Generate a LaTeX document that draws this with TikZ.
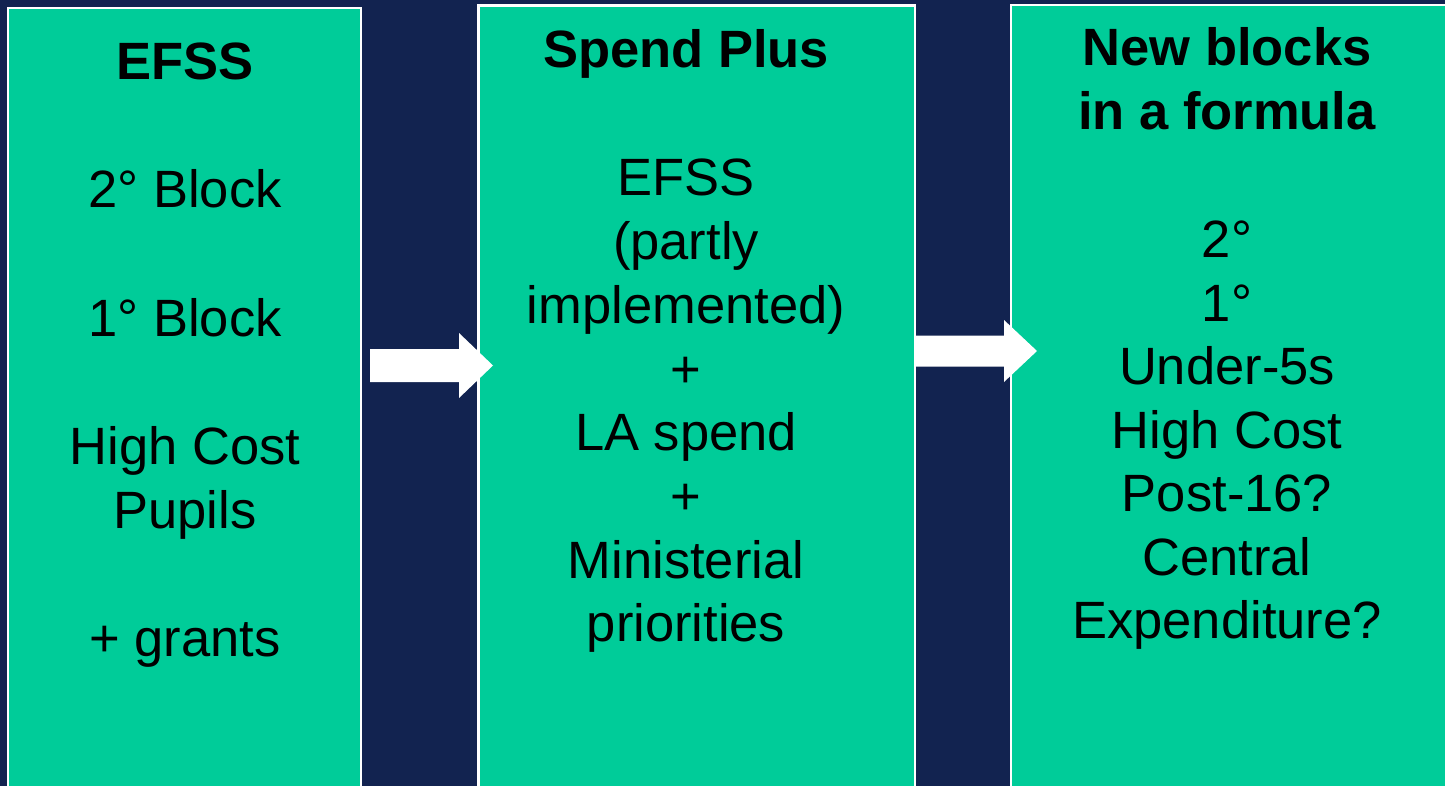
\documentclass[tikz,border=0pt]{standalone}
\usepackage{fontspec}
\setmainfont{Liberation Sans}
\usetikzlibrary{calc}
\definecolor{navy}{RGB}{18,35,80}
\definecolor{mint}{RGB}{0,204,153}
\newcommand{\drawflow}[5]{% start, tip, body half, head half, head length
  \fill[white] ($(#1)+(0,-#3)$) -- ($(#2)+(-#5,-#3)$) -- ($(#2)+(-#5,-#4)$) -- (#2)
    -- ($(#2)+(-#5,#4)$) -- ($(#2)+(-#5,#3)$) -- ($(#1)+(0,#3)$) -- cycle;}
\begin{document}
\begin{tikzpicture}[x=1pt,y=-1pt,
  panel/.style={draw=white, line width=2.5pt, fill=mint, anchor=north west, inner sep=0pt, outer sep=0pt, minimum height=820pt},
  txt/.style={anchor=base, inner sep=0pt, text=black, font=\fontsize{52.5}{63}\selectfont},
  ttl/.style={txt, font=\fontsize{52.5}{63}\selectfont\bfseries}]
\useasboundingbox (0,0) rectangle (1445,786);
\fill[navy] (0,0) rectangle (1445,786);
\clip (0,0) rectangle (1445,786);
% panels
\node[panel, minimum width=353pt] (b1) at (8,8) {};
\node[panel, minimum width=436.5pt] (b2) at (478.5,5.5) {};
\node[panel, minimum width=520pt] (b3) at (1011,5) {};
% arrows
\coordinate (a1s) at (370,365.5);
\coordinate (a1t) at (493,365.5);
\coordinate (a2s) at (915,351);
\coordinate (a2t) at (1037,351);
\drawflow{a1s}{a1t}{16.5}{32.5}{34}
\drawflow{a2s}{a2t}{15.5}{31}{33}
% panel 1 text
\node[ttl] (p1t) at (185,80) {EFSS};
\node[txt] (p1a) at (185,208) {2° Block};
\node[txt] (p1b) at (185,336) {1° Block};
\node[txt] (p1c) at (185,464) {High Cost};
\node[txt] (p1d) at (185,528) {Pupils};
\node[txt] (p1e) at (185,656) {+ grants};
% panel 2 text
\node[ttl] (p2t) at (686,68) {Spend Plus};
\node[txt] (p2a) at (686,196) {EFSS};
\node[txt] (p2b) at (686,259.7) {(partly};
\node[txt] (p2c) at (686,323.4) {implemented)};
\node[txt] (p2d) at (686,387.1) {+};
\node[txt] (p2e) at (686,450.8) {LA spend};
\node[txt] (p2f) at (686,514.5) {+};
\node[txt] (p2g) at (686,578.2) {Ministerial};
\node[txt] (p2h) at (686,641.9) {priorities};
% panel 3 text
\node[ttl] (p3t) at (1227,66) {New blocks};
\node[ttl] (p3u) at (1227,129.5) {in a formula};
\node[txt] (p3a) at (1227,257.5) {2°};
\node[txt] (p3b) at (1227,321) {1°};
\node[txt] (p3c) at (1227,384.5) {Under-5s};
\node[txt] (p3d) at (1227,448) {High Cost};
\node[txt] (p3e) at (1227,511.5) {Post-16?};
\node[txt] (p3f) at (1227,575) {Central};
\node[txt] (p3g) at (1227,638.5) {Expenditure?};
\end{tikzpicture}
\end{document}
